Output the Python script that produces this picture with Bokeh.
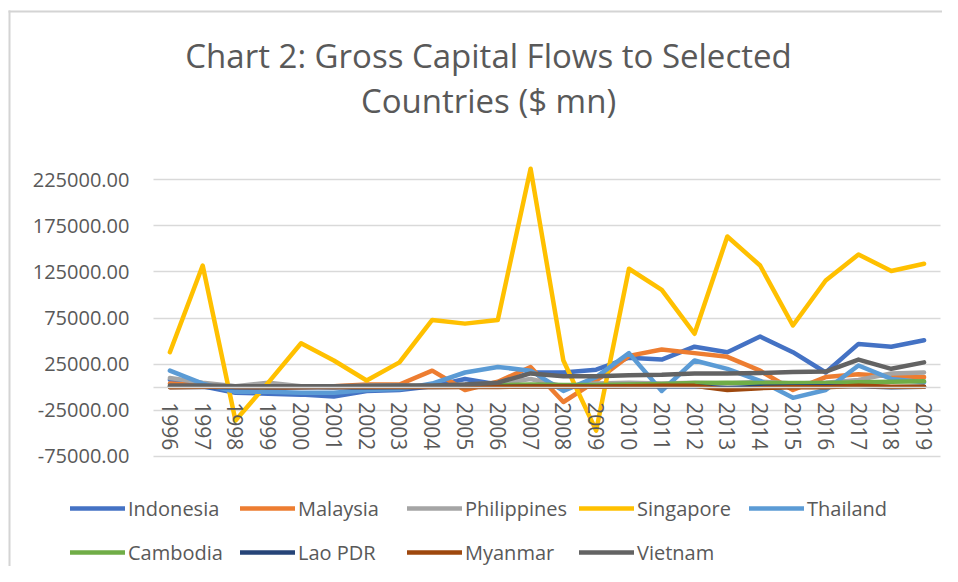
from bokeh.plotting import figure
from bokeh.models import (Range1d, FixedTicker, NumeralTickFormatter, Legend,
                          LegendItem, Label, BoxAnnotation)
from bokeh.embed import file_html
from bokeh.resources import INLINE

years = list(range(1996, 2020))

indonesia = [8000, 1000, -6000, -7000, -8000, -10000, -4000, -3000, 1000, 9000, 3000, 16000,
             16000, 19000, 32000, 30000, 44000, 38000, 55000, 38000, 16000, 47000, 44000, 51000]
malaysia = [4000, 2000, -2000, -1000, 0, 1000, 3000, 3000, 18000, -3000, 6000, 22000,
            -16000, 7000, 34000, 41000, 37000, 33000, 18000, -3000, 11000, 14000, 12000, 11000]
philippines = [10000, 5000, 1000, 5000, 1000, 0, 2000, 2000, 1000, 3000, 4000, 9000,
               1000, 4000, 5000, 4000, 5000, 4000, 6000, 4000, 5000, 8000, 15000, 16000]
singapore = [38000, 132000, -36000, 5000, 47700, 29000, 7300, 27000, 73000, 69000, 73000, 237000,
             29000, -47000, 128500, 105700, 58000, 163500, 132000, 67000, 115800, 144000, 126000, 134000]
thailand = [18000, 4000, -5000, -5000, -6000, -6000, -3000, -2000, 4000, 16000, 22000, 18000,
            -4000, 11000, 37000, -4000, 29000, 20000, 7000, -11500, -3000, 23600, 9000, 5500]
cambodia = [500, 500, 500, 500, 500, 500, 500, 1000, 1000, 1500, 2000, 3000,
            2500, 2500, 3000, 3500, 4500, 5000, 4500, 4500, 4500, 5500, 6000, 6500]
lao_pdr = [200, 200, 100, 100, 100, 100, 100, 200, 200, 500, 500, 800,
           800, 500, 700, 800, 1000, -1000, 500, 800, 1000, 1200, 0, 500]
myanmar = [0, 500, 500, 300, 300, 300, 200, 200, 200, 300, 300, 700,
           800, 600, 1000, 1500, 1500, -3000, -1000, 0, 0, 1500, 500, 500]
vietnam = [2000, 2000, 1000, 1000, 1000, 1000, 1500, 2000, 2000, 3000, 5000, 15000,
           12000, 12000, 13000, 13500, 15000, 15000, 15500, 16500, 17000, 30000, 20000, 27000]

y_ticks = [-75000, -25000, 25000, 75000, 125000, 175000, 225000]

title_lines = ["Chart 2: Gross Capital Flows to Selected", "Countries ($ mn)"]

series = [
    ("Indonesia", indonesia, "#4472C4"),
    ("Malaysia", malaysia, "#ED7D31"),
    ("Philippines", philippines, "#A5A5A5"),
    ("Singapore", singapore, "#FFC000"),
    ("Thailand", thailand, "#5B9BD5"),
    ("Cambodia", cambodia, "#70AD47"),
    ("Lao PDR", lao_pdr, "#264478"),
    ("Myanmar", myanmar, "#9E480E"),
    ("Vietnam", vietnam, "#636363"),
]

FONT = "Open Sans"
TXT = "#595959"
GRID = "#d9d9d9"
BORDER = "#d4d4d4"

x_lo, x_hi = years[0] - 0.5, years[-1] + 0.5

p = figure(width=942, height=566,
           x_range=Range1d(1990.834, 2019.562),
           y_range=Range1d(-194397, 419430),
           output_backend="svg", toolbar_location=None,
           min_border_left=0, min_border_right=0,
           min_border_top=0, min_border_bottom=0)
p.title.visible = False
p.outline_line_color = None
p.background_fill_color = "white"
p.border_fill_color = "white"

# chart-area border (top and left edges visible)
p.add_layout(BoxAnnotation(left=8, right=10, top=556, bottom=0,
                           left_units="screen", right_units="screen",
                           top_units="screen", bottom_units="screen",
                           fill_color=BORDER, fill_alpha=1,
                           line_color=None, line_alpha=0, line_width=0))
p.add_layout(BoxAnnotation(left=8, right=942, top=556, bottom=554,
                           left_units="screen", right_units="screen",
                           top_units="screen", bottom_units="screen",
                           fill_color=BORDER, fill_alpha=1,
                           line_color=None, line_alpha=0, line_width=0))

# Title (two centred lines)
for txt, sy in zip(title_lines, [511, 466]):
    p.add_layout(Label(x=488, y=sy, x_units="screen", y_units="screen", text=txt,
                       text_align="center", text_baseline="middle",
                       text_font=FONT, text_font_size="33px", text_color=TXT))

# Y axis
p.yaxis.fixed_location = x_lo
p.yaxis.ticker = FixedTicker(ticks=y_ticks)
p.yaxis.formatter = NumeralTickFormatter(format="0.00")
p.yaxis.axis_line_color = None
p.yaxis.major_tick_line_color = None
p.yaxis.major_tick_out = 0
p.yaxis.major_tick_in = 0
p.yaxis.minor_tick_line_color = None
p.yaxis.major_label_text_font = FONT
p.yaxis.major_label_text_font_size = "20px"
p.yaxis.major_label_text_color = TXT
p.yaxis.major_label_standoff = 24

# X axis at zero
p.xaxis.fixed_location = 0
p.xaxis.bounds = (x_lo, x_hi)
p.xaxis.ticker = FixedTicker(ticks=years)
p.xaxis.formatter = NumeralTickFormatter(format="0")
p.xaxis.axis_line_color = GRID
p.xaxis.axis_line_width = 1.5
p.xaxis.major_tick_line_color = None
p.xaxis.major_tick_out = 0
p.xaxis.major_tick_in = 0
p.xaxis.minor_tick_line_color = None
p.xaxis.major_label_orientation = "vertical"
p.xaxis.major_label_text_font = FONT
p.xaxis.major_label_text_font_size = "21px"
p.xaxis.major_label_text_color = TXT
p.xaxis.major_label_standoff = 15

p.xgrid.grid_line_color = None
if "cross_bounds" in p.ygrid[0].properties():
    p.ygrid.ticker = FixedTicker(ticks=y_ticks)
    p.ygrid.cross_bounds = (x_lo, x_hi)
    p.ygrid.grid_line_color = GRID
    p.ygrid.grid_line_width = 1.5
else:
    p.ygrid.grid_line_color = None
    p.segment(x0=[x_lo] * len(y_ticks), x1=[x_hi] * len(y_ticks), y0=y_ticks, y1=y_ticks,
              line_color=GRID, line_width=1.5)

renderers = []
for name, vals, col in series:
    r = p.line(years, vals, line_color=col, line_width=4.5,
               line_join="round", line_cap="round")
    renderers.append((name, r))

leg_x = [70, 240, 407, 579, 749]
leg_y = [44, 0]
for i, (name, r) in enumerate(renderers):
    row, colidx = divmod(i, 5)
    leg = Legend(items=[LegendItem(label=name, renderers=[r])],
                 location=(leg_x[colidx], leg_y[row]),
                 padding=0, margin=0, spacing=0,
                 border_line_color=None, background_fill_alpha=0,
                 glyph_width=55, glyph_height=28, label_height=28,
                 label_standoff=3,
                 label_text_font=FONT, label_text_font_size="20px",
                 label_text_color=TXT)
    p.add_layout(leg, "center")

open("out.html", "w").write(file_html(p, INLINE))
